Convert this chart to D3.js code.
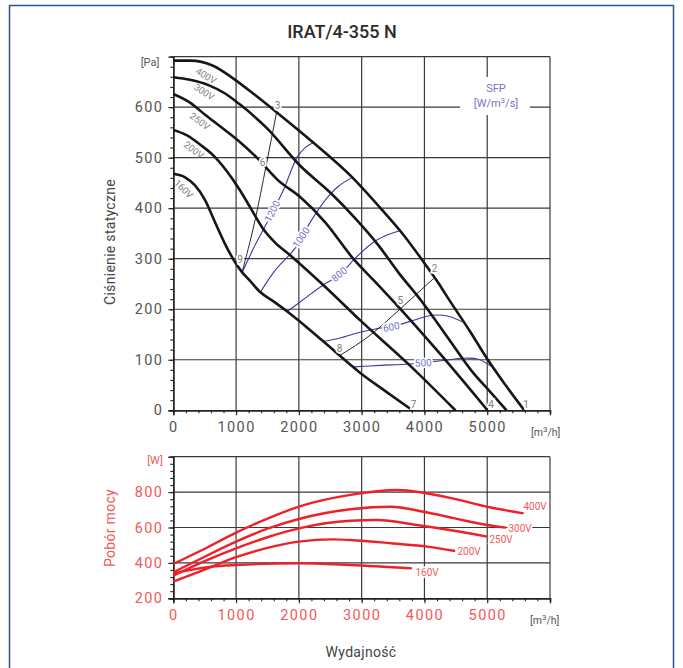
<!DOCTYPE html>
<html><head><meta charset="utf-8">
<script src="https://cdn.jsdelivr.net/npm/d3@7"></script>
<style>
body{margin:0;background:#fff}
text{font-family:Roboto,"Liberation Sans",sans-serif}
</style>
</head><body>
<svg id="c" width="683" height="668"></svg>
<script>
// ---------- data ----------
const flowTicks = [0,1000,2000,3000,4000,5000];
const pressureTicks = [0,100,200,300,400,500,600];
const powerTicks = [200,400,600,800];
const voltages = ["400V","300V","250V","200V","160V"];
const sfpLevels = ["1200","1000","800","600","500"];
const pointLabels = ["1","2","3","4","5","6","7","8","9"];

// static pressure curves [m3/h, Pa]
const pq400 = [[0,692],[266,692],[633,682],[952,657],[1271,627],[1654,589],[2228,530],[2850,461],[3329,396],[3648,350],[3967,297],[4222,252],[4397,218],[4732,155],[5004,101],[5291,50],[5590,0]];
const pq300 = [[0,659],[266,654],[569,643],[825,627],[1064,605],[1494,558],[2021,484],[2499,431],[2898,380],[3265,327],[3584,273],[3967,214],[4365,145],[4764,76],[5051,36],[5307,0]];
const pq250 = [[0,626],[266,609],[506,585],[745,562],[1032,534],[1330,500],[1670,455],[2021,422],[2420,372],[2866,300],[3217,254],[3488,218],[4254,111],[5004,0]];
const pq200 = [[0,555],[219,544],[426,526],[633,505],[841,475],[1064,435],[1223,402],[1415,362],[1622,332],[1861,307],[2388,248],[2978,178],[3775,88],[4493,0]];
const pq160 = [[0,468],[187,461],[346,445],[506,416],[665,372],[825,329],[984,293],[1091,274],[1223,256],[1383,234],[1590,216],[1809,196],[2101,167],[2393,136],[2978,74],[3377,38],[3807,0]];

// SFP iso-lines [m3/h, Pa]
const sfp1200 = [[1091,271],[1303,327],[1542,383],[1750,435],[1973,501],[2101,520],[2233,530]];
const sfp1000 = [[1383,233],[1622,277],[1941,321],[2180,372],[2420,416],[2627,443],[2850,461]];
const sfp800  = [[1809,195],[2101,222],[2388,248],[2659,269],[2898,301],[3217,335],[3424,348],[3616,356]];
const sfp600  = [[2393,136],[2659,143],[2898,152],[3217,161],[3504,166],[3775,176],[4121,188],[4382,186],[4600,175]];
const sfp500  = [[2866,86],[3297,89],[3696,91],[3983,94],[4333,99],[4605,103],[4860,101],[5099,84]];

// system curves [m3/h, Pa]
const sysHigh = [[1091,271],[1300,375],[1480,485],[1650,593]];
const sysLow  = [[2658,109],[3150,150],[3600,199],[4147,261]];

// power consumption [m3/h, W]
const pw400 = [[0,394],[500,480],[1000,571],[1500,650],[2000,718],[2820,784],[3560,812],[3880,802],[4500,760],[5000,717],[5580,680]];
const pw300 = [[0,347],[500,435],[1000,520],[1500,593],[2000,648],[2820,703],[3460,717],[3990,689],[4500,650],[5000,614],[5300,599]];
const pw250 = [[0,328],[500,410],[1000,482],[1500,545],[2000,595],[2820,638],[3240,642],[3880,614],[4500,580],[5000,548]];
const pw200 = [[0,294],[500,362],[1000,432],[1500,485],[2000,520],[2550,533],[2820,529],[3500,510],[4050,492],[4490,467]];
const pw160 = [[0,340],[300,362],[600,378],[1000,388],[2000,398],[2820,388],[3800,369]];

// ---------- drawing ----------
const svg = d3.select("#c");
const x = d3.scaleLinear([0,6000],[173.3,550]);
const yP = d3.scaleLinear([0,700],[410.3,56.6]);
const yW = d3.scaleLinear([200,1000],[598.3,456.7]);

const GRID = "#3a3a3a", GREY = "#555", RED = "#ee2028", RED_T = "#f05a5a",
      BLUE = "#3b3b9c", BLUE_T = "#7474c4", LBL = "#808080";

// frame
svg.append("rect").attr("x",9.5).attr("y",5.5).attr("width",664).attr("height",690)
  .attr("fill","none").attr("stroke","#2a5688").attr("stroke-width",1.5);

svg.append("text").attr("x",342).attr("y",38).attr("text-anchor","middle")
  .attr("font-size",18).attr("font-weight",500).attr("fill","#2b2b2b").text("IRAT/4-355 N");

function panel(y, yTicks, yMinor, top, colorTxt){
  const g = svg.append("g");
  g.selectAll(".vg").data(flowTicks.slice(1).concat([6000])).join("line")
    .attr("x1",d=>x(d)).attr("x2",d=>x(d)).attr("y1",y.range()[0]).attr("y2",y.range()[1])
    .attr("stroke",GRID).attr("stroke-width",1.2);
  g.selectAll(".hg").data(yTicks.slice(1).concat([top])).join("line")
    .attr("x1",x(0)).attr("x2",x(6000)).attr("y1",d=>y(d)).attr("y2",d=>y(d))
    .attr("stroke",GRID).attr("stroke-width",1.2);
  const xa = g.append("g").attr("transform",`translate(0,${y.range()[0]})`)
    .call(d3.axisBottom(x).tickValues(d3.range(0,6001,200)).tickSize(3).tickFormat(""));
  const xb = g.append("g").attr("transform",`translate(0,${y.range()[0]})`)
    .call(d3.axisBottom(x).tickValues(flowTicks).tickSize(5).tickPadding(6).tickFormat(d3.format("d")));
  const ya = g.append("g").attr("transform",`translate(${x(0)},0)`)
    .call(d3.axisLeft(y).tickValues(yMinor).tickSize(3).tickFormat(""));
  const yb = g.append("g").attr("transform",`translate(${x(0)},0)`)
    .call(d3.axisLeft(y).tickValues(yTicks).tickSize(5).tickPadding(5).tickFormat(d3.format("d")));
  [xa,xb,ya,yb].forEach(a=>{
    a.selectAll("path").attr("stroke","#222").attr("stroke-width",1.4);
    a.selectAll("line").attr("stroke","#222").attr("stroke-width",1.1);
    a.selectAll("text").attr("font-size",14.5).attr("fill",colorTxt).attr("letter-spacing",1.4)
      .attr("font-family","Roboto,sans-serif");
  });
  return g;
}
panel(yP, pressureTicks, d3.range(0,701,20), 700, GREY);
panel(yW, powerTicks, d3.range(200,1001,40), 1000, RED_T);

// unit labels
svg.append("text").attr("x",150).attr("y",66).attr("text-anchor","middle").attr("font-size",11).attr("fill",GREY).text("[Pa]");
svg.append("text").attr("x",155).attr("y",464).attr("text-anchor","middle").attr("font-size",11).attr("fill",RED_T).text("[W]");
function unitM3(xp,yp){
  const t = svg.append("text").attr("x",xp).attr("y",yp).attr("font-size",10.5).attr("fill",GREY);
  t.append("tspan").text("[m");
  t.append("tspan").attr("dy",-4).attr("font-size",8).text("3");
  t.append("tspan").attr("dy",4).text("/h]");
}
unitM3(531,436);
unitM3(530,624);

// axis titles
svg.append("text").attr("transform","translate(115,242) rotate(-90)").attr("text-anchor","middle")
  .attr("font-size",14).attr("fill","#444").attr("letter-spacing",0.3).text("Ciśnienie statyczne");
svg.append("text").attr("transform","translate(115,528) rotate(-90)").attr("text-anchor","middle")
  .attr("font-size",14).attr("fill",RED_T).attr("letter-spacing",0.3).text("Pobór mocy");
svg.append("text").attr("x",361).attr("y",657).attr("text-anchor","middle")
  .attr("font-size",14).attr("fill","#444").attr("letter-spacing",0.3).text("Wydajność");

// SFP legend
svg.append("rect").attr("x",460).attr("y",77).attr("width",70).attr("height",38).attr("fill","#fff");
svg.append("text").attr("x",496).attr("y",92).attr("text-anchor","middle").attr("font-size",11).attr("fill",BLUE_T).text("SFP");
const sl = svg.append("text").attr("x",496).attr("y",107).attr("text-anchor","middle").attr("font-size",11).attr("fill",BLUE_T);
sl.append("tspan").text("[W/m");
sl.append("tspan").attr("dy",-4).attr("font-size",8).text("3");
sl.append("tspan").attr("dy",4).text("/s]");

// lines
const lineP = d3.line().x(d=>x(d[0])).y(d=>yP(d[1]));
const lineW = d3.line().x(d=>x(d[0])).y(d=>yW(d[1]));

[sfp1200,sfp1000,sfp800,sfp600,sfp500].forEach(s=>{
  svg.append("path").attr("d",lineP.curve(d3.curveCatmullRom)(s)).attr("fill","none")
    .attr("stroke",BLUE).attr("stroke-width",1.1);
});
[sysHigh,sysLow].forEach(s=>{
  svg.append("path").attr("d",lineP.curve(d3.curveMonotoneX)(s)).attr("fill","none")
    .attr("stroke","#111").attr("stroke-width",0.9);
});
[pq400,pq300,pq250,pq200,pq160].forEach(s=>{
  svg.append("path").attr("d",lineP.curve(d3.curveMonotoneX)(s)).attr("fill","none")
    .attr("stroke","#161616").attr("stroke-width",2.6).attr("stroke-linejoin","round");
});
[pw400,pw300,pw250,pw200,pw160].forEach(s=>{
  svg.append("path").attr("d",lineW.curve(d3.curveMonotoneX)(s)).attr("fill","none")
    .attr("stroke",RED).attr("stroke-width",2.4);
});

// labels
function lab(xp,yp,txt,size,color,angle,halo,anchor){
  svg.append("text").attr("transform",`translate(${xp},${yp}) rotate(${angle||0})`)
    .attr("text-anchor",anchor||"middle").attr("dy","0.35em").attr("font-size",size).attr("fill",color)
    .attr("stroke",halo?"#fff":"none").attr("stroke-width",halo?3.5:0).attr("paint-order","stroke")
    .text(txt);
}
// voltage labels on pressure curves
const vPos = [[522,662,31],[492,630,33],[424,572,37],[327,515,37],[164,438,45]];
voltages.forEach((v,i)=>lab(x(vPos[i][0]),yP(vPos[i][1]),v,9.5,LBL,vPos[i][2]));
// SFP labels
const sPos = [[1577,394,-63],[2037,342,-56],[2643,269,-40],[3472,165,-11],[3982,94,-3]];
sfpLevels.forEach((v,i)=>lab(x(sPos[i][0]),yP(sPos[i][1]),v,10,BLUE_T,sPos[i][2],true));
// operating point labels
const pPos = [[5618,12],[4163,281],[1659,603],[5060,12],[3616,218],[1420,490],[3828,12],[2648,123],[1064,298]];
pointLabels.forEach((v,i)=>lab(x(pPos[i][0]),yP(pPos[i][1]),v,10,LBL,0,true));
// power labels
const wX = [523.5,508.5,489.5,457.5,415.5];
const wY = [506,528,539.5,551.5,572];
voltages.forEach((v,i)=>lab(wX[i],wY[i],v,10,RED_T,0,true,"start"));
</script>
</body></html>
